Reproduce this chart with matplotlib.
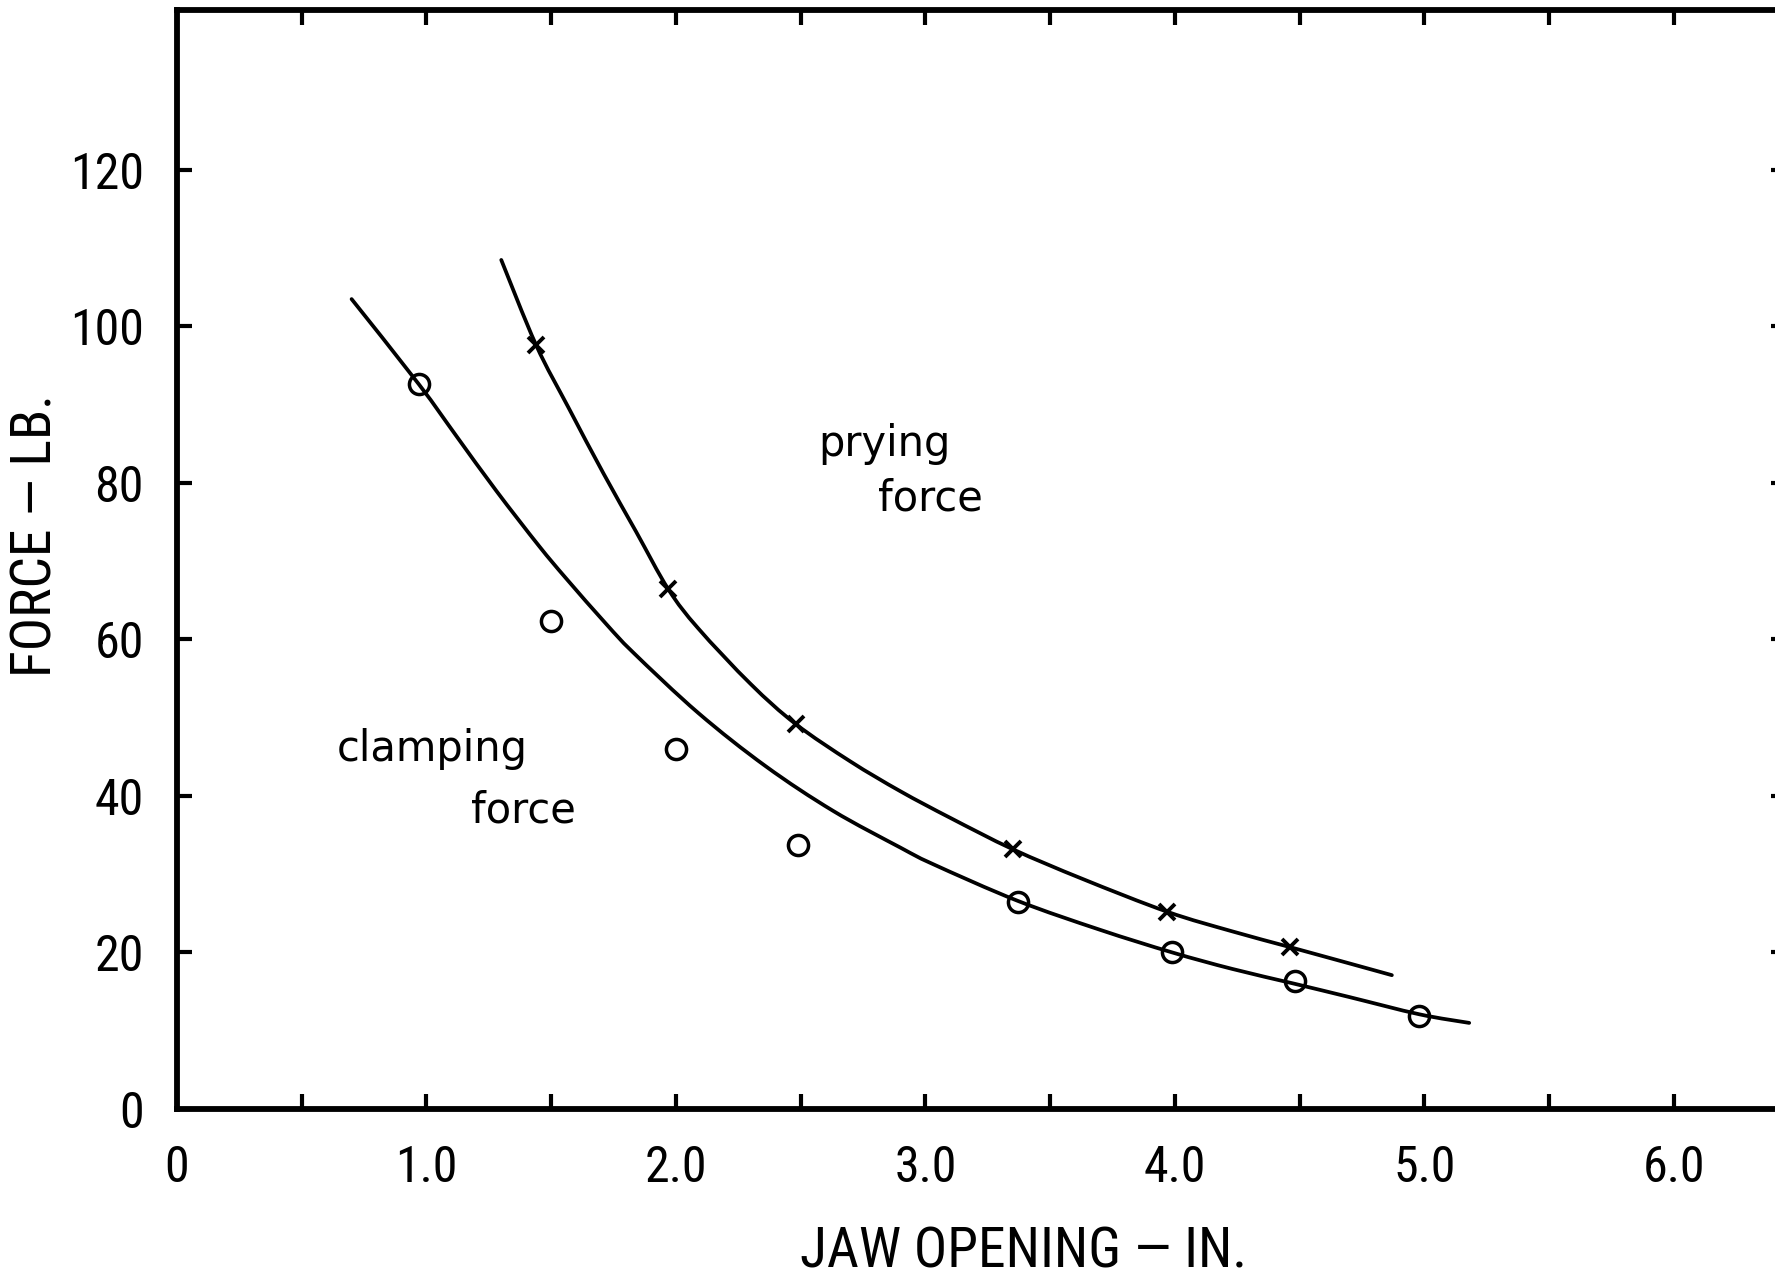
import matplotlib
matplotlib.use("Agg")
import matplotlib.pyplot as plt
from matplotlib import font_manager
from matplotlib.font_manager import FontProperties
from matplotlib.path import Path
from matplotlib.patches import PathPatch
from matplotlib.ticker import MultipleLocator

clamp_x = [0.97, 1.50, 2.00, 2.49, 3.37, 3.99, 4.48, 4.98]
clamp_y = [92.6, 62.4, 46.0, 33.7, 26.5, 20.0, 16.3, 11.9]
pry_x = [1.44, 1.97, 2.48, 3.35, 3.97, 4.46]
pry_y = [97.6, 66.4, 49.2, 33.2, 25.2, 20.7]

# hand drawn curves
clamp_curve_x = [0.70, 0.97, 1.12, 1.28, 1.45, 1.56, 1.72, 1.83, 2.09, 2.36, 2.63,
                 2.90, 3.03, 3.37, 3.70, 3.99, 4.23, 4.48, 4.70, 4.98, 5.18]
clamp_curve_y = [103.5, 92.6, 86.0, 79.0, 72.0, 67.8, 62.0, 58.3, 50.6, 43.8, 38.1,
                 33.4, 31.3, 26.6, 22.9, 20.0, 17.9, 16.0, 14.3, 12.1, 11.0]
pry_curve_x = [1.30, 1.44, 1.57, 1.71, 1.84, 1.97, 2.09, 2.30, 2.48, 2.70, 2.90,
               3.10, 3.35, 3.63, 3.97, 4.23, 4.46, 4.70, 4.87]
pry_curve_y = [108.5, 97.6, 89.6, 81.2, 73.8, 66.4, 61.4, 54.3, 49.2, 44.4, 40.6,
               37.2, 33.2, 29.4, 25.2, 22.7, 20.7, 18.6, 17.1]

x_ticks = [0, 1, 2, 3, 4, 5, 6]
x_tick_labels = ["0", "1.0", "2.0", "3.0", "4.0", "5.0", "6.0"]
y_ticks = [0, 20, 40, 60, 80, 100, 120]
y_tick_labels = ["0", "20", "40", "60", "80", "100", "120"]


def narrow_font():
    # the scan uses a condensed lettering, take whatever narrow face is around
    wanted = ["Liberation Sans Narrow", "Roboto Condensed", "DejaVu Sans Condensed",
              "Open Sans Condensed", "Noto Sans Condensed"]
    fonts = font_manager.fontManager.ttflist
    for w in wanted:
        for f in fonts:
            if f.name == w and f.style == "normal" and f.weight in (400, "normal", "regular"):
                return FontProperties(fname=f.fname)
    for f in fonts:
        tag = (f.name + " " + f.fname).lower()
        if ("narrow" in tag or "condensed" in tag) and "bold" not in tag \
                and "italic" not in tag and "light" not in tag and "oblique" not in tag:
            return FontProperties(fname=f.fname)
    return FontProperties(family="DejaVu Sans", stretch="condensed")


def smooth_path(xs, ys):
    # catmull-rom through the traced points, drawn as bezier segments
    pts = list(zip(xs, ys))
    verts = [pts[0]]
    codes = [Path.MOVETO]
    n = len(pts)
    for i in range(n - 1):
        p0 = pts[i - 1] if i > 0 else pts[i]
        p1 = pts[i]
        p2 = pts[i + 1]
        p3 = pts[i + 2] if i + 2 < n else pts[i + 1]
        c1 = (p1[0] + (p2[0] - p0[0]) / 6, p1[1] + (p2[1] - p0[1]) / 6)
        c2 = (p2[0] - (p3[0] - p1[0]) / 6, p2[1] - (p3[1] - p1[1]) / 6)
        verts += [c1, c2, p2]
        codes += [Path.CURVE4] * 3
    return Path(verts, codes)


nf = narrow_font()

fig = plt.figure(figsize=(17.75, 12.76), dpi=100)
# right spine sits just past the edge of the scan
ax = fig.add_axes([0.0997, 0.1309, 0.9065, 0.861])

for cx, cy in [(clamp_curve_x, clamp_curve_y), (pry_curve_x, pry_curve_y)]:
    ax.add_patch(PathPatch(smooth_path(cx, cy), facecolor="none", edgecolor="black",
                           linewidth=2.7, capstyle="round"))
ax.plot(clamp_x, clamp_y, linestyle="none", marker="o", markersize=14.5,
        markerfacecolor="none", markeredgecolor="black", markeredgewidth=2.5)
ax.plot(pry_x, pry_y, linestyle="none", marker="x", markersize=11,
        markeredgecolor="black", markeredgewidth=2.8)

ax.set_xlim(0, 6.45)
ax.set_ylim(0, 140.4)

ax.set_xticks(x_ticks)
ax.set_xticklabels(x_tick_labels)
ax.xaxis.set_minor_locator(MultipleLocator(0.5))
ax.set_yticks(y_ticks)
ax.set_yticklabels(y_tick_labels)

ax.tick_params(axis="both", which="both", direction="in", top=True, right=True,
               length=11, width=3.0)
ax.tick_params(axis="x", which="major", pad=25)
ax.tick_params(axis="y", which="major", pad=24)
for t in ax.get_xticklabels() + ax.get_yticklabels():
    t.set_fontproperties(nf)
    t.set_fontsize(36)

for s in ax.spines.values():
    s.set_linewidth(4.2)

ax.set_xlabel("JAW OPENING — IN.", fontproperties=nf, fontsize=40)
ax.xaxis.set_label_coords(0.526, -0.106)
ax.set_ylabel("FORCE — LB.", fontproperties=nf, fontsize=40)
ax.yaxis.set_label_coords(-0.071, 0.522)

lbl = dict(fontsize=30, family=["DejaVu Sans"], va="center", ha="left")
ax.text(0.64, 46.0, "clamping", **lbl)
ax.text(1.18, 38.1, "force", **lbl)
ax.text(2.57, 85.0, "prying", **lbl)
ax.text(2.81, 78.0, "force", **lbl)

fig.savefig("out.png", dpi=100)
